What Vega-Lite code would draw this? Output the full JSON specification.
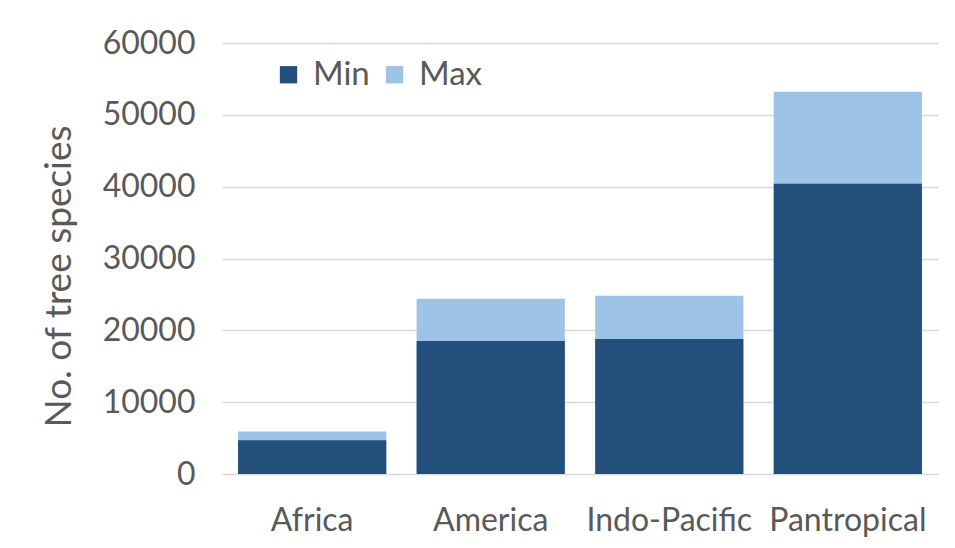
{
  "$schema": "https://vega.github.io/schema/vega-lite/v6.json",
  "width": 716,
  "height": 431,
  "autosize": {"type": "none"},
  "padding": {"left": 222, "top": 43, "right": 17, "bottom": 74},
  "background": "white",
  "config": {
    "font": "Lato",
    "view": {"stroke": null},
    "axis": {"labelColor": "#595959", "titleColor": "#595959", "labelFont": "Lato", "titleFont": "Lato"}
  },
  "data": {
    "values": [
      {"region": "Africa", "series": "Max", "value": 5900},
      {"region": "America", "series": "Max", "value": 24400},
      {"region": "Indo-Pacific", "series": "Max", "value": 24800},
      {"region": "Pantropical", "series": "Max", "value": 53200},
      {"region": "Africa", "series": "Min", "value": 4700},
      {"region": "America", "series": "Min", "value": 18500},
      {"region": "Indo-Pacific", "series": "Min", "value": 18800},
      {"region": "Pantropical", "series": "Min", "value": 40400}
    ]
  },
  "mark": {"type": "bar"},
  "encoding": {
    "x": {
      "field": "region",
      "type": "nominal",
      "sort": ["Africa", "America", "Indo-Pacific", "Pantropical"],
      "scale": {"paddingInner": 0.17, "paddingOuter": 0.09},
      "axis": {
        "title": null,
        "labelAngle": 0,
        "labelFontSize": 32,
        "labelPadding": 31,
        "ticks": false,
        "domain": false,
        "grid": false
      }
    },
    "y": {
      "field": "value",
      "type": "quantitative",
      "stack": null,
      "scale": {"domain": [0, 60000], "nice": false},
      "axis": {
        "title": "No. of tree species",
        "titleFontSize": 37,
        "titleFontWeight": "normal",
        "titlePadding": 24,
        "titleY": 233,
        "labelFontSize": 32,
        "labelPadding": 27,
        "values": [0, 10000, 20000, 30000, 40000, 50000, 60000],
        "format": "d",
        "ticks": false,
        "domain": false,
        "gridColor": "#d9d9d9",
        "gridWidth": 1.5
      }
    },
    "color": {
      "field": "series",
      "type": "nominal",
      "scale": {"domain": ["Min", "Max"], "range": ["#224f7b", "#9dc3e6"]},
      "legend": {
        "title": null,
        "orient": "none",
        "direction": "horizontal",
        "legendX": 50,
        "legendY": 15,
        "symbolType": "square",
        "symbolSize": 300,
        "symbolStrokeWidth": 0,
        "labelFontSize": 33,
        "labelColor": "#595959",
        "labelFont": "Lato",
        "columnPadding": 8,
        "labelOffset": 8
      }
    }
  }
}
